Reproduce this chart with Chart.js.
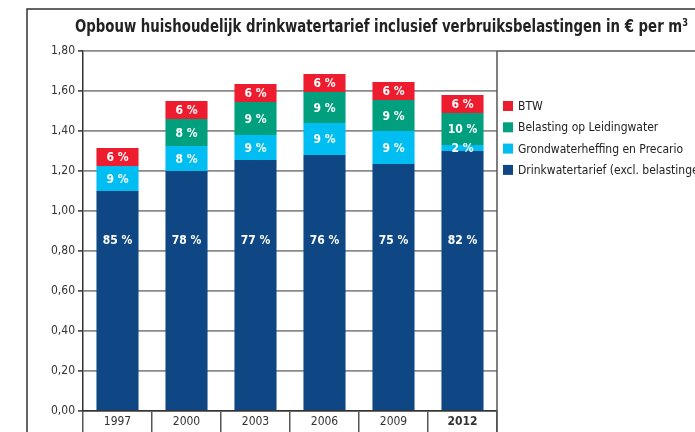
<!DOCTYPE html>
<html>
<head>
<meta charset="utf-8">
<script src="https://cdn.jsdelivr.net/npm/chart.js@4"></script>
<style>
  html, body { margin: 0; padding: 0; background: #fff; }
  #wrap { width: 695px; height: 432px; }
</style>
</head>
<body>
<div id="wrap"><canvas id="chart" width="695" height="432"></canvas></div>
<script>
const years = ['1997', '2000', '2003', '2006', '2009', '2012'];
const yTicks = [0, 0.2, 0.4, 0.6, 0.8, 1.0, 1.2, 1.4, 1.6, 1.8];

// euro per m3, bottom to top
const drinkwater = [1.10, 1.20, 1.255, 1.28, 1.235, 1.30];
const grondwater = [0.125, 0.125, 0.125, 0.16, 0.165, 0.03];
const leiding = [0, 0.135, 0.165, 0.155, 0.155, 0.16];
const btw = [0.09, 0.09, 0.09, 0.09, 0.09, 0.09];

// percentage labels as printed in the bars
const drinkPct = ['85 %', '78 %', '77 %', '76 %', '75 %', '82 %'];
const grondPct = ['9 %', '8 %', '9 %', '9 %', '9 %', '2 %'];
const leidingPct = ['', '8 %', '9 %', '9 %', '9 %', '10 %'];
const btwPct = ['6 %', '6 %', '6 %', '6 %', '6 %', '6 %'];

const FONT = '"Liberation Sans Narrow", "DejaVu Sans Condensed", "Roboto", sans-serif';

const colDrink = '#0f4785';
const colGrond = '#00bdf2';
const colLeiding = '#00a07e';
const colBtw = '#ed1c2e';

// white percentages inside the segments
const barLabels = {
  id: 'barLabels',
  afterDatasetsDraw(chart) {
    const ctx = chart.ctx;
    ctx.save();
    ctx.fillStyle = '#fff';
    ctx.font = 'bold 12px ' + FONT;
    ctx.textAlign = 'center';
    ctx.textBaseline = 'middle';
    chart.data.datasets.forEach((ds, i) => {
      const meta = chart.getDatasetMeta(i);
      meta.data.forEach((bar, j) => {
        const txt = ds.pct[j];
        if (!txt) return;
        let y = (bar.y + bar.base) / 2;
        if (i === 0) y = chart.scales.y.getPixelForValue(0.855);
        ctx.fillText(txt, bar.x, y + 1);
      });
    });
    ctx.restore();
  }
};

// frame, title, extra lines and the legend on the right
const decor = {
  id: 'decor',
  afterDraw(chart) {
    const ctx = chart.ctx;
    const a = chart.chartArea;
    const top = chart.scales.y.getPixelForValue(1.8);
    ctx.save();
    ctx.strokeStyle = '#333';
    ctx.lineWidth = 1.5;
    ctx.beginPath();
    ctx.moveTo(27, 432); ctx.lineTo(27, 9); ctx.lineTo(695, 9);
    ctx.stroke();

    ctx.strokeStyle = '#555';
    ctx.beginPath();
    ctx.moveTo(a.right, top); ctx.lineTo(695, top);
    ctx.moveTo(a.right, top); ctx.lineTo(a.right, 432);
    ctx.stroke();

    // title squeezed to the width it has in the original
    const title = 'Opbouw huishoudelijk drinkwatertarief inclusief verbruiksbelastingen in \u20ac per m\u00b3';
    ctx.fillStyle = '#222';
    ctx.font = 'bold 18px ' + FONT;
    ctx.textAlign = 'left';
    ctx.textBaseline = 'middle';
    const w = ctx.measureText(title).width;
    const sx = Math.min(1, 613 / w);
    ctx.save();
    ctx.translate(75, 27);
    ctx.scale(sx, 1);
    ctx.fillText(title, 0, 0);
    ctx.restore();

    ctx.font = '12px ' + FONT;
    ctx.textAlign = 'left';
    const items = chart.data.datasets.slice().reverse();
    items.forEach((ds, i) => {
      const y = 106 + i * 21.3;
      ctx.fillStyle = ds.backgroundColor;
      ctx.fillRect(503, y - 5, 10, 10);
      ctx.fillStyle = '#222';
      ctx.fillText(ds.label, 518, y + 1);
    });
    ctx.restore();
  }
};

new Chart(document.getElementById('chart'), {
  type: 'bar',
  data: {
    labels: years,
    datasets: [
      { label: 'Drinkwatertarief (excl. belastingen)', data: drinkwater, backgroundColor: colDrink, pct: drinkPct },
      { label: 'Grondwaterheffing en Precario', data: grondwater, backgroundColor: colGrond, pct: grondPct },
      { label: 'Belasting op Leidingwater', data: leiding, backgroundColor: colLeiding, pct: leidingPct },
      { label: 'BTW', data: btw, backgroundColor: colBtw, pct: btwPct }
    ]
  },
  options: {
    responsive: false,
    animation: false,
    layout: { padding: { top: 51, right: 198, left: 0, bottom: 0 } },
    barPercentage: 0.61,
    categoryPercentage: 1,
    plugins: {
      legend: { display: false },
      tooltip: { enabled: false }
    },
    scales: {
      x: {
        stacked: true,
        border: { color: '#333', width: 1.5 },
        grid: { offset: true, drawOnChartArea: false, tickLength: 21, color: '#555', lineWidth: 1.5 },
        ticks: {
          padding: -17,
          color: '#333',
          font: ctx => ({ family: FONT, size: 12, weight: ctx.index === 5 ? 'bold' : 'normal' })
        },
        afterFit(scale) { scale.height = 21; }
      },
      y: {
        stacked: true,
        min: 0,
        max: 1.8,
        afterBuildTicks(scale) { scale.ticks = yTicks.map(v => ({ value: v })); },
        border: { color: '#333', width: 1.5 },
        grid: { color: '#8a8a8a', lineWidth: 1.8, tickLength: 5, tickColor: '#555' },
        ticks: {
          padding: 3,
          color: '#333',
          font: { family: FONT, size: 12 },
          callback: v => v.toFixed(2).replace('.', ',')
        },
        afterFit(scale) { scale.width = 83; }
      }
    }
  },
  plugins: [barLabels, decor]
});
</script>
</body>
</html>
